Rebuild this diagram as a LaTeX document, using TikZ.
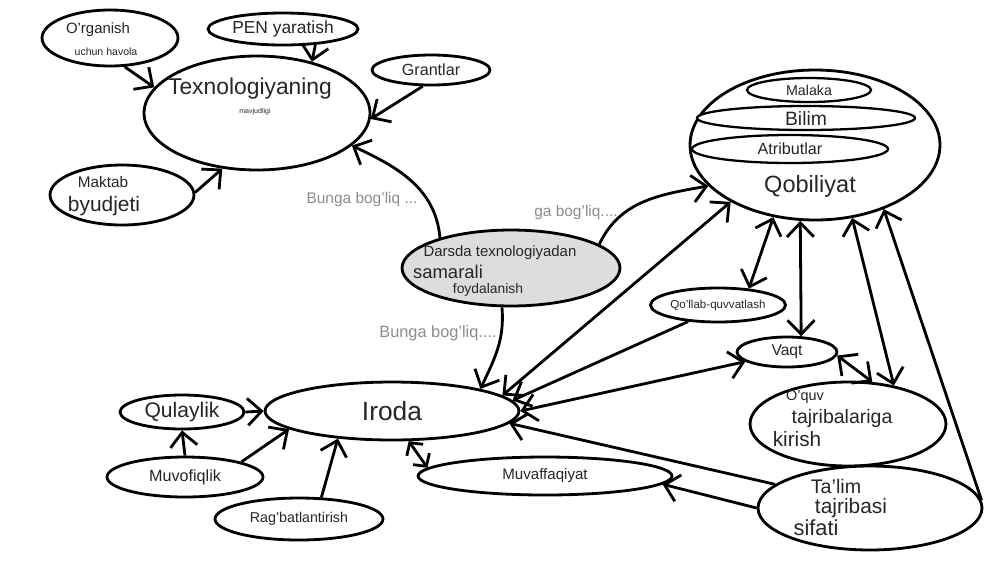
\documentclass[tikz,border=0pt]{standalone}
\usepackage{fontspec}
\setmainfont{Liberation Sans}
\usetikzlibrary{arrows.meta,shapes.geometric}

\begin{document}
\begin{tikzpicture}[
	x=0.02cm,
	y=-0.02cm,
	bubble/.style={
		ellipse,
		draw=black,
		line width=1.6pt,
		fill=white,
		inner sep=0pt,
		align=center,
		text=black!85
	},
	inner/.style={
		bubble,
		line width=1.3pt
	},
	txt/.style={
		inner sep=0pt,
		text=black!85
	},
	lbl/.style={
		inner sep=0pt,
		text=black!45,
		font=\fontsize{8.8}{10}\selectfont
	},
	link/.style={
		line width=1.6pt,
		-{Straight Barb[length=2.8mm,width=5.4mm]}
	},
	twoway/.style={
		line width=1.6pt,
		{Straight Barb[length=2.8mm,width=5.4mm]}-{Straight Barb[length=2.8mm,width=5.4mm]}
	},
	shortway/.style={
		line width=1.6pt,
		{Straight Barb[length=1.8mm,width=4mm]}-{Straight Barb[length=1.8mm,width=4mm]}
	},
]
\useasboundingbox (0,0) rectangle (1000,562);

% Texnologiyaning mavjudligi
\node[bubble, minimum width=4.52cm, minimum height=2.28cm] (tex) at (257,113) {};
\node[txt, font=\fontsize{13}{15}\selectfont] (tex_t) at (250,89) {Texnologiyaning};
\node[txt, font=\fontsize{4}{5}\selectfont] (tex_s) at (255,112) {mavjudligi};

\node[bubble, minimum width=2.72cm, minimum height=1.12cm] (org) at (110,38) {};
\node[txt, font=\fontsize{8.5}{10}\selectfont] (org_t) at (98,30) {O'rganish};
\node[txt, font=\fontsize{6}{7}\selectfont] (org_s) at (106,52) {uchun havola};

\node[bubble, minimum width=3cm, minimum height=0.64cm, font=\fontsize{9.9}{12}\selectfont] (pen) at (283,29) {PEN yaratish};
\node[bubble, minimum width=2.36cm, minimum height=0.6cm, font=\fontsize{9.2}{11}\selectfont] (grant) at (431,70) {Grantlar};

\node[bubble, minimum width=2.88cm, minimum height=1.2cm] (maktab) at (122,195) {};
\node[txt, font=\fontsize{8.7}{10}\selectfont] (maktab_t) at (103,182) {Maktab};
\node[txt, font=\fontsize{11.9}{14}\selectfont] (maktab_s) at (104,206) {byudjeti};

% Darsda texnologiyadan samarali foydalanish
\node[bubble, fill=gray!27, minimum width=4.36cm, minimum height=1.52cm] (darsda) at (511,268) {};
\node[txt, font=\fontsize{8.5}{10}\selectfont] (darsda_a) at (500,253) {Darsda texnologiyadan};
\node[txt, font=\fontsize{10.5}{12}\selectfont] (darsda_b) at (448,272) {samarali};
\node[txt, font=\fontsize{7.9}{9}\selectfont] (darsda_c) at (488,290) {foydalanish};

% Qobiliyat
\node[bubble, minimum width=5cm, minimum height=3cm] (qob) at (815,145) {};
\node[inner, minimum width=2.48cm, minimum height=0.48cm, font=\fontsize{8.1}{10}\selectfont] (malaka) at (809,90) {Malaka};
\node[inner, minimum width=4.36cm, minimum height=0.48cm, font=\fontsize{11}{13}\selectfont] (bilim) at (806,118) {Bilim};
\node[inner, minimum width=3.92cm, minimum height=0.56cm, font=\fontsize{9.2}{11}\selectfont] (atrib) at (790,149) {Atributlar};
\node[txt, font=\fontsize{13.4}{16}\selectfont] (qob_t) at (810,186) {Qobiliyat};

\node[bubble, minimum width=2.7cm, minimum height=0.68cm, font=\fontsize{6.6}{8}\selectfont] (qollab) at (718,305) {Qo'llab-quvvatlash};
\node[bubble, minimum width=2cm, minimum height=0.6cm, font=\fontsize{8.9}{10}\selectfont] (vaqt) at (787,352) {Vaqt};

\node[bubble, minimum width=3.92cm, minimum height=1.68cm] (oquv) at (848,424) {};
\node[txt, font=\fontsize{8.2}{10}\selectfont] (oquv_a) at (805,397) {O'quv};
\node[txt, font=\fontsize{11.1}{13}\selectfont] (oquv_b) at (842,418) {tajribalariga};
\node[txt, font=\fontsize{11.8}{14}\selectfont] (oquv_c) at (797,439) {kirish};

\node[bubble, minimum width=4.48cm, minimum height=1.68cm] (talim) at (870,508) {};
\node[txt, font=\fontsize{11.2}{13}\selectfont] (talim_a) at (836,486) {Ta'lim};
\node[txt, font=\fontsize{11.9}{14}\selectfont] (talim_b) at (851,508) {tajribasi};
\node[txt, font=\fontsize{12.4}{15}\selectfont] (talim_c) at (816,528) {sifati};

% Iroda
\node[bubble, minimum width=5.08cm, minimum height=1.16cm, font=\fontsize{15}{18}\selectfont] (iroda) at (392,411) {Iroda};
\node[bubble, minimum width=2.48cm, minimum height=0.68cm, font=\fontsize{12}{14}\selectfont] (qulay) at (182,412) {Qulaylik};
\node[bubble, minimum width=3.12cm, minimum height=0.8cm, font=\fontsize{9.2}{11}\selectfont] (muvof) at (185,477) {Muvofiqlik};
\node[bubble, minimum width=3.36cm, minimum height=0.84cm, font=\fontsize{8.1}{10}\selectfont] (ragbat) at (299,519) {Rag'batlantirish};
\node[bubble, minimum width=5.08cm, minimum height=0.76cm, font=\fontsize{8.6}{10}\selectfont] (muvaf) at (545,476) {Muvaffaqiyat};

\node[lbl] (lbl_tex) at (362,199) {Bunga bog'liq ...};
\node[lbl] (lbl_qob) at (576,212) {ga bog'liq....};
\node[lbl, font=\fontsize{9.3}{11}\selectfont] (lbl_iroda) at (438,333) {Bunga bog'liq....};

\draw[link] (org.-63) -- (tex.166);
\draw[link] (pen.-26) -- (tex.43);
\draw[link] (grant.-117) -- (tex.-3);
\draw[link] (maktab.2) -- (tex.-122);

\draw[link] (darsda.157) to[out=95,in=-25] (tex.-19);
\draw[link] (darsda.15) to[out=65,in=190] (qob.201);
\draw[link] (darsda.-103) to[out=-85,in=65] (iroda.14);

\draw[twoway] (iroda.8) -- (qob.214);
\draw[link] (qollab.209) -- (iroda.5);
\draw[twoway] (iroda.0) -- (vaqt.193);
\draw[link] (talim.166) -- (iroda.-6);
\draw[link] (talim.180) -- (muvaf.-4);
\draw[shortway] (iroda.-61) -- (muvaf.176);

\draw[twoway] (qob.-120) -- (qollab.28);
\draw[twoway] (qob.-101) -- (vaqt.48);
\draw[twoway] (qob.-63) -- (oquv.40);
\draw[link] (talim.4) -- (qob.-43);
\draw[twoway] (vaqt.-4) -- (oquv.60);

\draw[link] (qulay.0) -- (iroda.180);
\draw[link] (muvof.90) -- (qulay.-90);
\draw[link] (muvof.15) -- (iroda.190);
\draw[link] (ragbat.44) -- (iroda.207);

\end{tikzpicture}
\end{document}
